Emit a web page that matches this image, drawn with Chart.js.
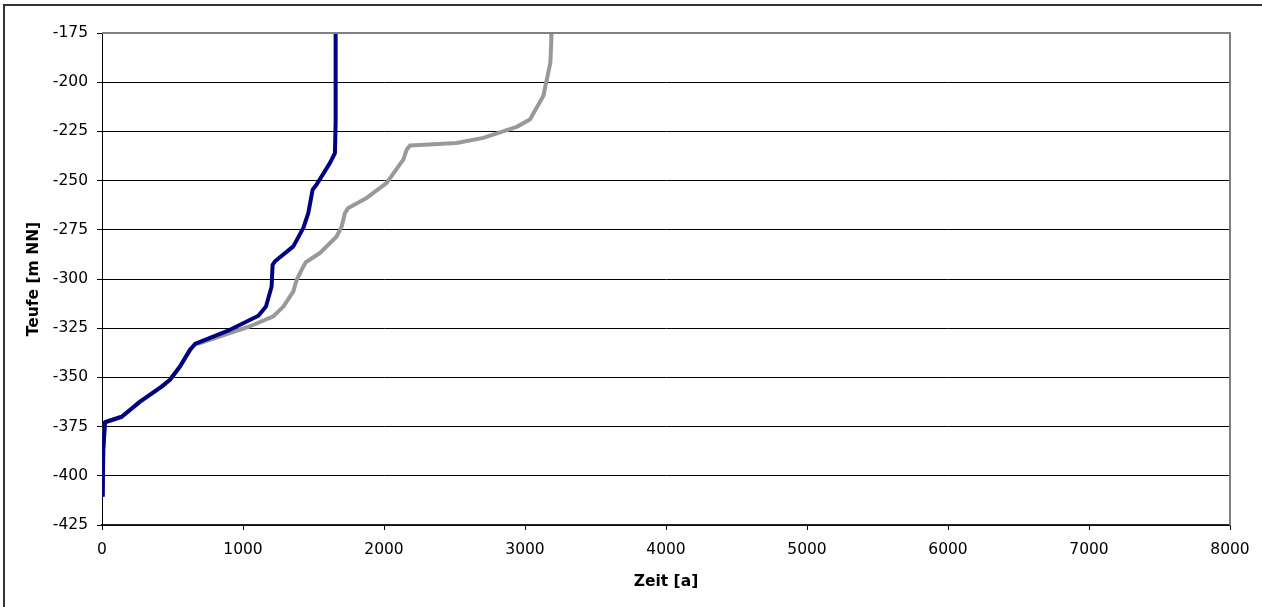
<!DOCTYPE html>
<html>
<head>
<meta charset="utf-8">
<script src="https://cdn.jsdelivr.net/npm/chart.js@4/dist/chart.umd.min.js"></script>
<style>
html,body{margin:0;padding:0;background:#fff;}
#wrap{width:1262px;height:607px;position:relative;}
</style>
</head>
<body>
<div id="wrap"><canvas id="c" width="1262" height="607"></canvas></div>
<script>
const blueTime  = [1657, 1657, 1652, 1617, 1522, 1494, 1463, 1428, 1357, 1227, 1210, 1203, 1163, 1109, 908, 660, 624, 553, 482, 423, 270, 140, 21, 9, 5];
const blueDepth = [-175, -220, -236, -241, -252, -254.6, -266.5, -274, -283.4, -291, -292.8, -303.8, -314, -318.7, -325.8, -333, -336, -344.5, -351.2, -354.7, -362.3, -370, -372.8, -386.8, -410.6];

const grayTime  = [3188, 3186, 3180, 3130, 3035, 2941, 2704, 2515, 2184, 2161, 2137, 2019, 1877, 1747, 1723, 1700, 1664, 1546, 1445, 1416, 1381, 1357, 1286, 1215, 1050, 695, 660, 624, 553, 482, 423, 270, 140, 21, 9, 5];
const grayDepth = [-175, -180, -190, -207, -219, -222.7, -228.3, -230.9, -232.2, -234.3, -239.3, -251.2, -258.8, -263.9, -266.5, -273.3, -278.4, -286.8, -291.5, -295.3, -300.4, -306.3, -314, -319, -324, -332.6, -333, -336, -344.5, -351.2, -354.7, -362.3, -370, -372.8, -386.8, -410.6];

const xTitle = 'Zeit [a]';
const yTitle = 'Teufe [m NN]';

function pts(xs, ys){ return xs.map((x,i)=>({x:x, y:ys[i]})); }

const FONT = "'DejaVu Sans', 'Liberation Sans', Arial, sans-serif";
const FS = 15.5;

const framePlugin = {
  id: 'frame',
  beforeDraw(chart){
    const ctx = chart.ctx;
    ctx.save();
    ctx.strokeStyle = '#333';
    ctx.lineWidth = 2;
    ctx.strokeRect(4, 5, 1300, 700);
    ctx.restore();
  },
  afterDatasetsDraw(chart){
    const ctx = chart.ctx, a = chart.chartArea;
    ctx.save();
    ctx.strokeStyle = '#808080';
    ctx.lineWidth = 2;
    ctx.beginPath();
    ctx.moveTo(a.left, a.top);
    ctx.lineTo(a.right, a.top);
    ctx.lineTo(a.right, a.bottom);
    ctx.stroke();
    ctx.restore();
  }
};

new Chart(document.getElementById('c'), {
  type: 'scatter',
  data: {
    datasets: [
      { label: 'grau', data: pts(grayTime, grayDepth), showLine: true, borderColor: '#999999', borderWidth: 4, pointRadius: 0, tension: 0, borderJoinStyle: 'round', borderCapStyle: 'butt', order: 2 },
      { label: 'blau', data: pts(blueTime, blueDepth), showLine: true, borderColor: '#000080', borderWidth: 4, pointRadius: 0, tension: 0, borderJoinStyle: 'round', borderCapStyle: 'butt', order: 1 }
    ]
  },
  options: {
    responsive: false,
    animation: false,
    events: [],
    layout: { padding: { top: 33, right: 32, bottom: 0, left: 0 } },
    plugins: { legend: { display: false }, tooltip: { enabled: false } },
    scales: {
      x: {
        type: 'linear', min: 0, max: 8000,
        ticks: { stepSize: 1000, color: '#000', font: { family: FONT, size: FS }, padding: 11, maxRotation: 0, callback: (v) => String(v) },
        grid: { drawOnChartArea: false, drawTicks: true, tickLength: 5, tickColor: '#000' },
        border: { color: '#222', width: 1.5 },
        title: { display: true, text: xTitle, color: '#000', font: { family: FONT, size: FS, weight: 'bold' }, padding: { top: 0, bottom: 16 } },
        afterFit(s){ s.height = 82; }
      },
      y: {
        type: 'linear', min: -425, max: -175,
        ticks: { stepSize: 25, color: '#000', font: { family: FONT, size: FS }, padding: 9, callback: (v) => String(v) },
        grid: { color: (c) => (c.tick && c.tick.value === -175) ? '#808080' : '#000', lineWidth: 1, drawTicks: true, tickLength: 5, tickColor: '#000' },
        border: { color: '#000', width: 1 },
        title: { display: true, text: yTitle, color: '#000', font: { family: FONT, size: FS, weight: 'bold' }, padding: { top: 25, bottom: 0 } },
        afterFit(s){ s.width = 102; }
      }
    }
  },
  plugins: [framePlugin]
});
</script>
</body>
</html>
